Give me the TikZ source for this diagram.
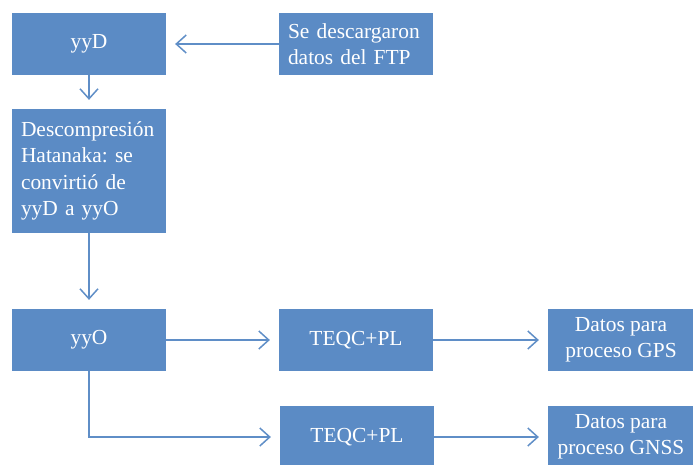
\documentclass[tikz,border=0pt]{standalone}
\usepackage{fontspec}
\setmainfont{Liberation Serif}
\frenchspacing
\usetikzlibrary{arrows.meta, positioning}
\definecolor{boxblue}{RGB}{91, 139, 197}
\definecolor{linkblue}{RGB}{95, 142, 199}

\begin{document}
\begin{tikzpicture}[x=0.02cm, y=-0.02cm,
    flowbox/.style={fill=boxblue, text=white, inner sep=0pt,
        minimum width=3.08cm, minimum height=1.24cm,
        font=\fontsize{12.2}{15}\selectfont, align=center},
    leftbox/.style={flowbox, text width=2.72cm, align=left},
    flowarrow/.style={draw=linkblue, line width=0.85pt,
        -{Straight Barb[length=0.2cm, width=0.36cm]}, shorten >=5pt}]

% Frame
\useasboundingbox (0,0) rectangle (693,464);

% Left column
\node[flowbox] (yyD) at (89,44) {yyD};
\node[leftbox] (ftp) at (356,44) {Se descargaron\\datos del FTP};
\node[leftbox, minimum height=2.48cm] (hatanaka) at (89,171)
    {Descompresión\\Hatanaka: se\\convirtió de\\yyD a yyO};
\node[flowbox] (yyO) at (89,340) {yyO};

% TEQC branches
\node[flowbox] (teqcgps) at (356,340) {TEQC+PL};
\node[flowbox] (teqcgnss) at (357,437) {TEQC+PL};

% Results
\node[flowbox, minimum width=2.92cm] (datosgps) at (621,340) {Datos para\\proceso GPS};
\node[flowbox, minimum width=2.92cm] (datosgnss) at (621,437) {Datos para\\proceso GNSS};

% Connectors
\draw[flowarrow] (ftp) -- (yyD);
\draw[flowarrow] (yyD) -- (hatanaka);
\draw[flowarrow] (hatanaka) -- (yyO);
\draw[flowarrow] (yyO) -- (teqcgps);
\draw[flowarrow] (yyO.south) |- (teqcgnss);
\draw[flowarrow] (teqcgps) -- (datosgps);
\draw[flowarrow] (teqcgnss) -- (datosgnss);

\end{tikzpicture}
\end{document}
